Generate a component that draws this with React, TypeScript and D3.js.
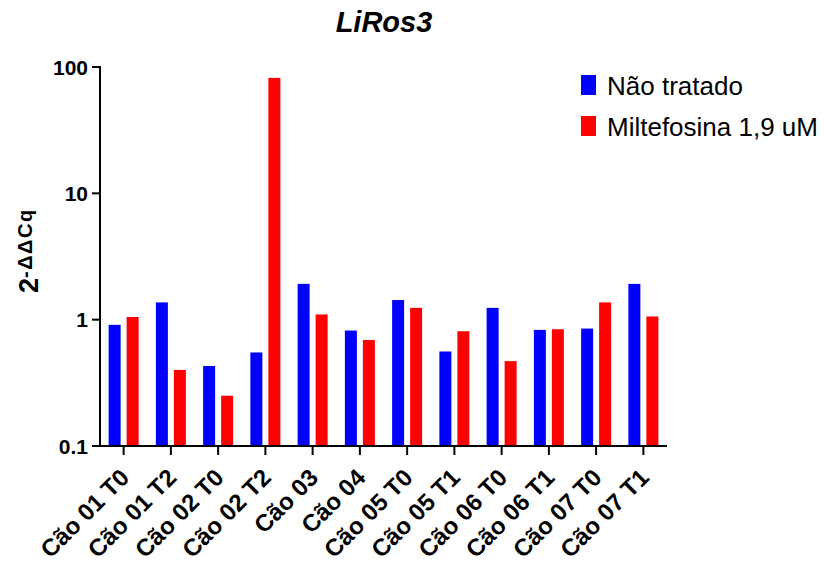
import React from "react";
import * as d3 from "d3";

// Relative expression of LiRos3 per sample
const categories = [
  "Cão 01 T0", "Cão 01 T2", "Cão 02 T0", "Cão 02 T2", "Cão 03", "Cão 04",
  "Cão 05 T0", "Cão 05 T1", "Cão 06 T0", "Cão 06 T1", "Cão 07 T0", "Cão 07 T1",
];
const naoTratado = [0.91, 1.37, 0.43, 0.55, 1.92, 0.82, 1.43, 0.56, 1.24, 0.83, 0.85, 1.92];
const miltefosina = [1.05, 0.40, 0.25, 82, 1.10, 0.69, 1.24, 0.81, 0.47, 0.84, 1.37, 1.06];
const seriesNames = ["Não tratado", "Miltefosina 1,9 uM"];
const seriesColors = ["#0000ff", "#ff0000"];
const yTicks = [0.1, 1, 10, 100];

const W = 824;
const H = 563;
const left = 100;
const right = 667;
const top = 67;
const bottom = 446;
const font = "'Liberation Sans', Arial, sans-serif";

export default function App() {
  const x = d3.scaleBand<string>().domain(categories).range([left, right]);
  const y = d3.scaleLog().domain([0.1, 100]).range([bottom, top]);
  const barW = 12;
  const gap = 5;
  const series = [naoTratado, miltefosina];

  return (
    <svg width={W} height={H} style={{ position: "absolute", left: 0, top: 0, background: "#fff" }}>
      <text x={384} y={32} textAnchor="middle" fontFamily={font} fontWeight="bold" fontStyle="italic" fontSize={29}>
        LiRos3
      </text>

      {series.map((vals, si) =>
        vals.map((v, i) => {
          const cx = x(categories[i])! + x.bandwidth() / 2;
          const x0 = si === 0 ? cx - gap / 2 - barW - 0.5 : cx + gap / 2 + 0.5;
          return (
            <rect key={`${si}-${i}`} x={x0} y={y(v)} width={barW} height={bottom - y(v)} fill={seriesColors[si]} />
          );
        })
      )}

      {/* y axis */}
      <line x1={left} x2={left} y1={top - 1} y2={bottom + 1} stroke="#000" strokeWidth={2} />
      {yTicks.map((t) => (
        <g key={t}>
          <line x1={left - 8} x2={left} y1={y(t)} y2={y(t)} stroke="#000" strokeWidth={2} />
          <text x={left - 12} y={y(t)} dy="0.36em" textAnchor="end" fontFamily={font} fontWeight="bold" fontSize={21}>
            {d3.format("~g")(t)}
          </text>
        </g>
      ))}

      {/* x axis */}
      <line x1={left - 1} x2={right} y1={bottom} y2={bottom} stroke="#000" strokeWidth={2} />
      {categories.map((c) => {
        const cx = x(c)! + x.bandwidth() / 2;
        return (
          <g key={c}>
            <line x1={cx} x2={cx} y1={bottom} y2={bottom + 9} stroke="#000" strokeWidth={2} />
            <text
              transform={`translate(${cx + 7},${bottom + 33}) rotate(-45)`}
              textAnchor="end"
              fontFamily={font}
              fontWeight="bold"
              fontSize={24}
            >
              {c}
            </text>
          </g>
        );
      })}

      {/* y axis title */}
      <text transform={`translate(38,293) rotate(-90)`} textAnchor="start" fontFamily={font} fontWeight="bold" fontSize={27}>
        2<tspan dy={-6} fontSize={20} letterSpacing={1.5}>-ΔΔCq</tspan>
      </text>

      {/* legend */}
      {seriesNames.map((n, i) => (
        <g key={n}>
          <rect x={581} y={75 + i * 41} width={15} height={20} fill={seriesColors[i]} />
          <text x={607} y={95 + i * 41} fontFamily={font} fontSize={26}>
            {n}
          </text>
        </g>
      ))}
    </svg>
  );
}
